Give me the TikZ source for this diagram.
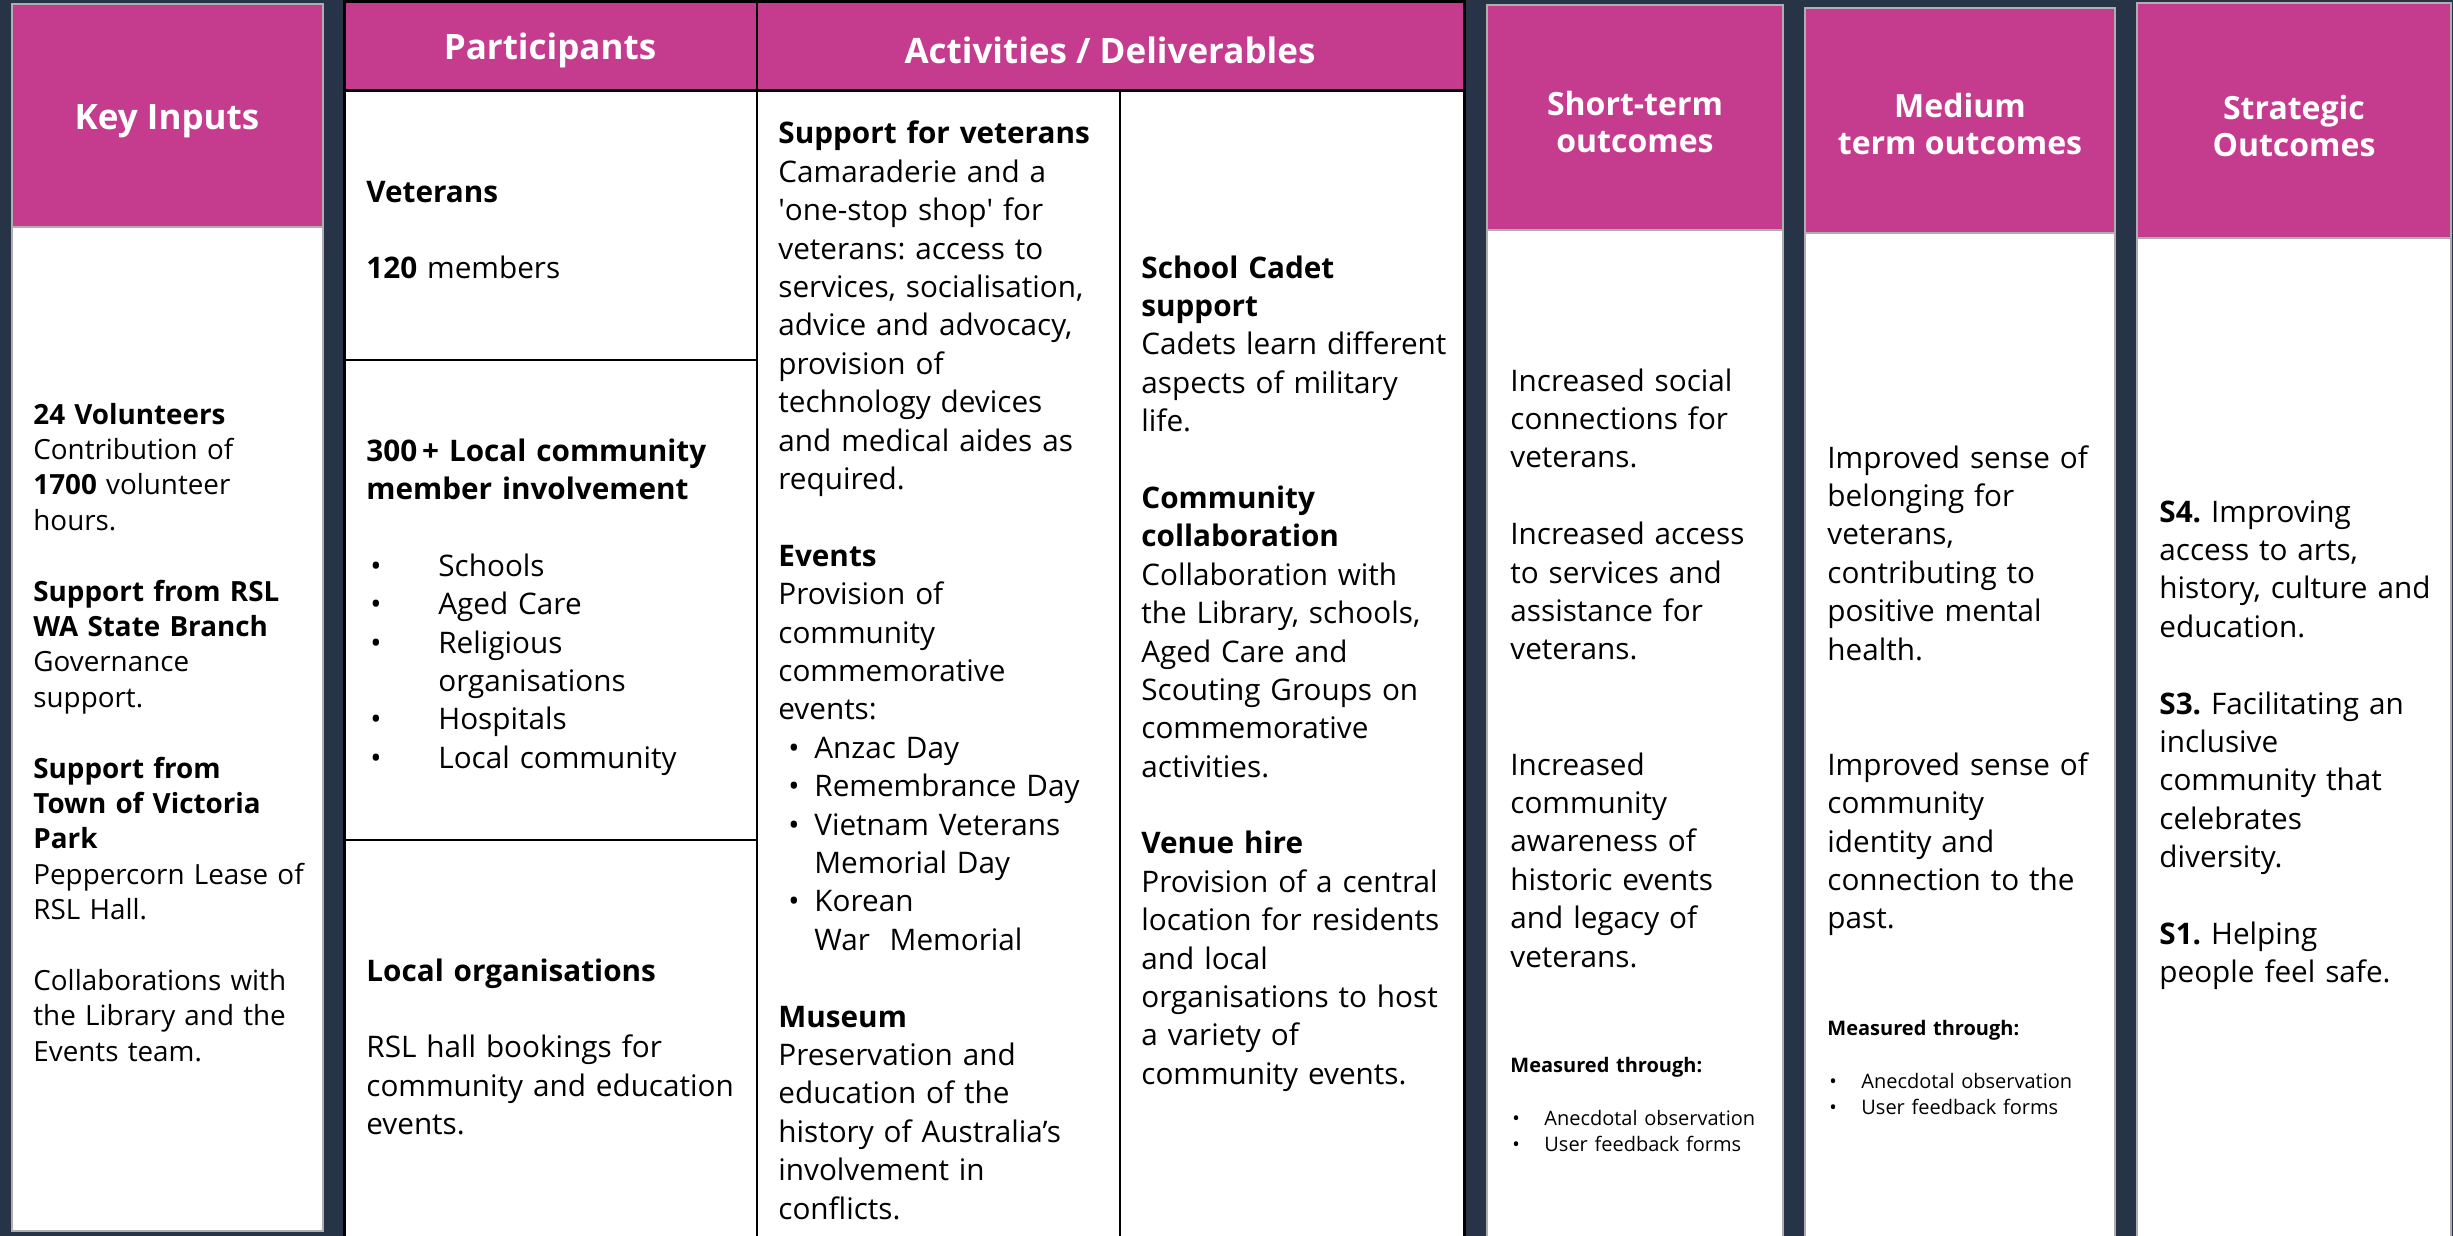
\documentclass[tikz,border=0pt]{standalone}
\usepackage{fontspec}
\setmainfont{Open Sans}
\frenchspacing
\definecolor{navy}{RGB}{39,52,72}
\definecolor{pinkh}{RGB}{197,60,143}
\definecolor{edgegray}{RGB}{175,175,175}
\newcommand\mybul[3]{\makebox[#1][l]{\hspace{#2}•}#3}
\begin{document}
\begin{tikzpicture}[x=0.5pt,y=-0.5pt,
  body/.style={anchor=base west, inner sep=0pt, text width=190pt, align=left,
    font=\fontsize{14.85}{19.2}\selectfont\frenchspacing},
  kbody/.style={anchor=base west, inner sep=0pt, text width=150pt, align=left,
    font=\fontsize{13.9}{17.7}\selectfont\frenchspacing},
  small/.style={anchor=base west, inner sep=0pt, text width=150pt, align=left,
    font=\fontsize{10}{13.3}\selectfont},
  hdr/.style={text=white, inner sep=0pt, align=center,
    font=\fontsize{17.5}{21}\selectfont\bfseries},
  hdrtwo/.style={text=white, inner sep=0pt, align=center,
    font=\fontsize{16}{18.8}\selectfont\bfseries},
  colframe/.style={draw=edgegray, line width=1pt},
  tline/.style={draw=black, line width=1pt},
  tthick/.style={draw=black, line width=1.5pt}]
\useasboundingbox (0,0) rectangle (2453,1236);
\clip (0,0) rectangle (2453,1236);
\fill[navy] (0,0) rectangle (2453,1236);

% Key Inputs column
\fill[pinkh] (12,4) rectangle (323,227);
\fill[white] (12,227) rectangle (323,1231);
\draw[colframe] (12,4) rectangle (323,1231);
\draw[colframe] (12,227) -- (323,227);

% Participants / Activities table
\fill[pinkh] (344,2) rectangle (1464,91);
\fill[white] (344,91) rectangle (1464,1250);
\draw[tthick] (344,1250) -- (344,2) -- (1464,2) -- (1464,1250);
\draw[tthick] (344,91) -- (1464,91);
\draw[tline] (757,2) -- (757,1250);
\draw[tline] (1120,91) -- (1120,1250);
\draw[tline] (344,360) -- (757,360);
\draw[tline] (344,840) -- (757,840);

% Outcome columns
\fill[pinkh] (1487,5) rectangle (1783,230);
\fill[white] (1487,230) rectangle (1783,1250);
\draw[colframe] (1487,1250) -- (1487,5) -- (1783,5) -- (1783,1250);
\draw[colframe] (1487,230) -- (1783,230);

\fill[pinkh] (1805,8) rectangle (2115,233);
\fill[white] (1805,233) rectangle (2115,1250);
\draw[colframe] (1805,1250) -- (1805,8) -- (2115,8) -- (2115,1250);
\draw[colframe] (1805,233) -- (2115,233);

\fill[pinkh] (2137,3) rectangle (2451,238);
\fill[white] (2137,238) rectangle (2451,1250);
\draw[colframe] (2137,1250) -- (2137,3) -- (2451,3) -- (2451,1250);
\draw[colframe] (2137,238) -- (2451,238);

% Headers
\node[hdr] (hKI) at (167,121) {Key Inputs};
\node[hdr] (hP) at (550,50) {Participants};
\node[hdr] (hA) at (1110,50) {Activities / Deliverables};
\node[hdrtwo] (hS) at (1635,122) {Short-term\\outcomes};
\node[hdrtwo] (hM) at (1960,124) {Medium\\term outcomes};
\node[hdrtwo] (hSt) at (2294,126) {Strategic\\Outcomes};

% Key inputs body
\node[kbody] (ki) at (33,424) {\textbf{24 Volunteers}\\
Contribution of\\
\textbf{1700} volunteer\\
hours.\\[\baselineskip]
\textbf{Support from RSL}\\
\textbf{WA State Branch}\\
Governance\\
support.\\[\baselineskip]
\textbf{Support from}\\
\textbf{Town of Victoria}\\
\textbf{Park}\\
Peppercorn Lease of\\
RSL Hall.\\[\baselineskip]
Collaborations with\\
the Library and the\\
Events team.};

% Participants
\node[body] (p1) at (366,202) {\textbf{Veterans}\\[\baselineskip]
\textbf{120} members};
\node[body] (p2) at (366,461) {\textbf{300\,+ Local community}\\
\textbf{member involvement}\\[\baselineskip]
\mybul{36pt}{2pt}{Schools}\\
\mybul{36pt}{2pt}{Aged Care}\\
\mybul{36pt}{2pt}{Religious}\\
\hspace*{36pt}organisations\\
\mybul{36pt}{2pt}{Hospitals}\\
\mybul{36pt}{2pt}{Local community}};
\node[body] (p3) at (366,981) {\textbf{Local organisations}\\[\baselineskip]
RSL hall bookings for\\
community and education\\
events.};

% Activities column 1
\node[body] (a1) at (778,144) {\textbf{Support for veterans}\\
Camaraderie and a\\
\textquotesingle one-stop shop\textquotesingle{} for\\
veterans: access to\\
services, socialisation,\\
advice and advocacy,\\
provision of\\
technology devices\\
and medical aides as\\
required.\\[\baselineskip]
\textbf{Events}\\
Provision of\\
community\\
commemorative\\
events:\\
\mybul{18pt}{5pt}{Anzac Day}\\
\mybul{18pt}{5pt}{Remembrance Day}\\
\mybul{18pt}{5pt}{Vietnam Veterans}\\
\hspace*{18pt}Memorial Day\\
\mybul{18pt}{5pt}{Korean}\\
\hspace*{18pt}War\ \ Memorial\\[\baselineskip]
\textbf{Museum}\\
Preservation and\\
education of the\\
history of Australia’s\\
involvement in\\
conflicts.};

% Activities column 2
\node[body] (a2) at (1141,278) {\textbf{School Cadet}\\
\textbf{support}\\
Cadets learn different\\
aspects of military\\
life.\\[\baselineskip]
\textbf{Community}\\
\textbf{collaboration}\\
Collaboration with\\
the Library, schools,\\
Aged Care and\\
Scouting Groups on\\
commemorative\\
activities.\\[\baselineskip]
\textbf{Venue hire}\\
Provision of a central\\
location for residents\\
and local\\
organisations to host\\
a variety of\\
community events.};

% Short-term outcomes
\node[body] (s1) at (1510,391) {Increased social\\
connections for\\
veterans.\\[\baselineskip]
Increased access\\
to services and\\
assistance for\\
veterans.\\[2\baselineskip]
Increased\\
community\\
awareness of\\
historic events\\
and legacy of\\
veterans.};
\node[small] (s2) at (1510,1072) {\textbf{Measured through:}\\[\baselineskip]
\mybul{17pt}{1pt}{Anecdotal observation}\\
\mybul{17pt}{1pt}{User feedback forms}};

% Medium term outcomes
\node[body] (m1) at (1827,468) {Improved sense of\\
belonging for\\
veterans,\\
contributing to\\
positive mental\\
health.\\[2\baselineskip]
Improved sense of\\
community\\
identity and\\
connection to the\\
past.};
\node[small] (m2) at (1827,1035) {\textbf{Measured through:}\\[\baselineskip]
\mybul{17pt}{1pt}{Anecdotal observation}\\
\mybul{17pt}{1pt}{User feedback forms}};

% Strategic outcomes
\node[body] (st) at (2159,522) {\textbf{S4.} Improving\\
access to arts,\\
history, culture and\\
education.\\[\baselineskip]
\textbf{S3.} Facilitating an\\
inclusive\\
community that\\
celebrates\\
diversity.\\[\baselineskip]
\textbf{S1.} Helping\\
people feel safe.};
\end{tikzpicture}
\end{document}
